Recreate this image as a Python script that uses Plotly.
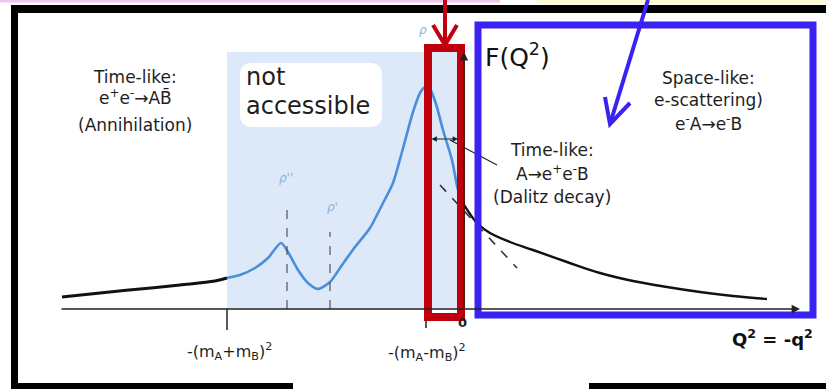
import plotly.graph_objects as go

# ---- data (schematic units: Q^2 horizontally, F(Q^2) vertically) ----
timelike_low_q2 = [-400, -362, -322, -282, -247, -235]
timelike_low_f = [12, 16, 20, 24, 28, 31]

vmd_q2 = [-235, -222, -207, -194, -181, -174, -164, -154, -144, -132, -120, -107,
          -92, -80, -69, -60, -49, -42, -37, -32, -26, -19, -10, -4, 1]
vmd_f = [31, 34, 41, 51, 66, 57, 39, 26, 20, 27, 44, 62,
         81, 104, 126, 157, 197, 216, 222, 220, 205, 179, 149, 119, 106]

spacelike_q2 = [1, 8, 16, 28, 48, 71, 105, 138, 171, 205, 238, 271, 305]
spacelike_f = [106, 95, 85, 76, 67, 59, 47, 36, 28, 22, 17, 13, 10]

tangent_q2 = [-22, 55]
tangent_f = [124, 41]

rho_pp_q2, rho_pp_f = -175, 104
rho_p_q2, rho_p_f = -132, 77

threshold_hi = -235   # -(mA+mB)^2
threshold_lo = -36    # -(mA-mB)^2

tick_labels = ["-(m<sub>A</sub>+m<sub>B</sub>)<sup>2</sup>",
               "-(m<sub>A</sub>-m<sub>B</sub>)<sup>2</sup>", "0"]

FONT = "DejaVu Sans"
BLUE_CURVE = "#4a8fdc"
RED = "#c0000c"
BLUE = "#3a22f2"

fig = go.Figure()

fig.add_trace(go.Scatter(x=timelike_low_q2, y=timelike_low_f, mode="lines",
                         line=dict(color="#111", width=3, shape="spline"),
                         hoverinfo="skip"))
fig.add_trace(go.Scatter(x=vmd_q2, y=vmd_f, mode="lines",
                         line=dict(color=BLUE_CURVE, width=2.6, shape="spline", smoothing=0.7),
                         hoverinfo="skip"))
fig.add_trace(go.Scatter(x=spacelike_q2, y=spacelike_f, mode="lines",
                         line=dict(color="#111", width=2.4, shape="spline"),
                         hoverinfo="skip"))
fig.add_trace(go.Scatter(x=tangent_q2, y=tangent_f, mode="lines",
                         line=dict(color="#333", width=1.6, dash="dash"),
                         hoverinfo="skip"))
fig.add_trace(go.Scatter(x=[rho_pp_q2, rho_pp_q2, None, rho_p_q2, rho_p_q2],
                         y=[0, rho_pp_f, None, 0, rho_p_f], mode="lines",
                         line=dict(color="#555", width=1.2, dash="dash"),
                         hoverinfo="skip"))

shapes = []
# top coloured strips
shapes.append(dict(type="rect", x0=-462, x1=38, y0=306.5, y1=309, fillcolor="#f2c4f0",
                   line_width=0, layer="below"))
shapes.append(dict(type="rect", x0=75, x1=364, y0=306, y1=309, fillcolor="#fffbcf",
                   line_width=0, layer="below"))
# black frame
shapes.append(dict(type="rect", x0=-451, x1=364, y0=296, y1=304, fillcolor="#000",
                   line_width=0, layer="above"))
shapes.append(dict(type="rect", x0=-451, x1=-444, y0=-80, y1=304, fillcolor="#000",
                   line_width=0, layer="above"))
shapes.append(dict(type="rect", x0=-451, x1=-169, y0=-80, y1=-74, fillcolor="#000",
                   line_width=0, layer="above"))
shapes.append(dict(type="rect", x0=127, x1=364, y0=-80, y1=-74, fillcolor="#000",
                   line_width=0, layer="above"))
# not accessible region
shapes.append(dict(type="rect", x0=threshold_hi, x1=0, y0=0, y1=257,
                   fillcolor="#dde9f8", line_width=0, layer="below"))
shapes.append(dict(type="path",
                   path="M -210,246 L -92,246 Q -80,246 -80,234 L -80,194 Q -80,182 -92,182 "
                        "L -210,182 Q -222,182 -222,194 L -222,234 Q -222,246 -210,246 Z",
                   fillcolor="white", line_width=0, layer="below"))
# ticks
shapes.append(dict(type="line", x0=threshold_hi, x1=threshold_hi, y0=0, y1=-21,
                   line=dict(color="#222", width=1.5)))
shapes.append(dict(type="line", x0=threshold_lo, x1=threshold_lo, y0=0, y1=-19,
                   line=dict(color="#222", width=1.5)))
# Dalitz pointer line
shapes.append(dict(type="line", x0=-12, y0=169, x1=35, y1=144,
                   line=dict(color="#222", width=1.2)))
# red box + arrow
shapes.append(dict(type="rect", x0=-34, x1=-1, y0=-8, y1=261,
                   line=dict(color=RED, width=8), layer="above"))
shapes.append(dict(type="line", x0=-17, y0=309, x1=-17, y1=264,
                   line=dict(color=RED, width=4), layer="above"))
shapes.append(dict(type="path", path="M -29,284 L -17,264 L -5,284",
                   line=dict(color=RED, width=4), layer="above"))
# blue box + arrow
shapes.append(dict(type="rect", x0=16, x1=351, y0=-6, y1=284,
                   line=dict(color=BLUE, width=7), layer="above"))
shapes.append(dict(type="line", x0=186, y0=309, x1=148, y1=185,
                   line=dict(color=BLUE, width=4), layer="above"))
shapes.append(dict(type="path", path="M 143,212 L 148,185 L 168,206",
                   line=dict(color=BLUE, width=4), layer="above"))
fig.update_layout(shapes=shapes)

ann = []
# axes with arrows
ann.append(dict(x=338, y=0, ax=-402, ay=0, xref="x", yref="y", axref="x", ayref="y",
                showarrow=True, arrowhead=2, arrowsize=1.2, arrowwidth=1.4,
                arrowcolor="#222", text=""))
ann.append(dict(x=2, y=257, ax=2, ay=0, xref="x", yref="y", axref="x", ayref="y",
                showarrow=True, arrowhead=2, arrowsize=1.2, arrowwidth=1.4,
                arrowcolor="#222", text=""))
# double arrow
ann.append(dict(x=-4, y=170, ax=-32, ay=170, xref="x", yref="y", axref="x", ayref="y",
                showarrow=True, arrowhead=2, arrowside="end+start", arrowsize=0.9,
                arrowwidth=1.2, arrowcolor="#222", text=""))


def txt(x, y, t, size=16, color="#1e1e1e", anchor="center", bold=False):
    ann.append(dict(x=x, y=y, xref="x", yref="y", text=("<b>%s</b>" % t) if bold else t,
                    showarrow=False, xanchor=anchor, yanchor="middle",
                    font=dict(family=FONT, size=size, color=color)))


txt(-327, 232, "Time-like:", size=17)
txt(-327, 212, "e<sup>+</sup>e<sup>-</sup>→AB̄", size=17)
txt(-327, 184, "(Annihilation)", size=17)

txt(-218, 232, "not", size=24, anchor="left")
txt(-218, 203, "accessible", size=24, anchor="left")

txt(246, 231, "Space-like:", size=17)
txt(246, 209, "e-scattering)", size=17)
txt(246, 186, "e<sup>-</sup>A→e<sup>-</sup>B", size=17)

txt(90, 159, "Time-like:", size=17)
txt(90, 136, "A→e<sup>+</sup>e<sup>-</sup>B", size=17)
txt(90, 112, "(Dalitz decay)", size=17)

txt(21, 254, "F(Q<sup>2</sup>)", size=25, color="#111", anchor="left")
txt(310, -29, "Q<sup>2</sup> = -q<sup>2</sup>", size=18, color="#111", bold=True)

txt(threshold_hi + 2, -42, tick_labels[0], size=16)
txt(threshold_lo + 1, -43, tick_labels[1], size=16)
txt(0, -13, tick_labels[2], size=13, bold=True)

txt(-39, 279, "<i>ρ</i>", size=12, color="#8ab3e0")
txt(-176, 131, "<i>ρ''</i>", size=12, color="#8ab3e0")
txt(-130, 102, "<i>ρ'</i>", size=12, color="#8ab3e0")

fig.update_layout(annotations=ann)

fig.update_layout(
    width=826, height=389,
    margin=dict(l=0, r=0, t=0, b=0, pad=0),
    paper_bgcolor="white", plot_bgcolor="white",
    showlegend=False,
    xaxis=dict(range=[-462, 364], visible=False, fixedrange=True),
    yaxis=dict(range=[-80, 309], visible=False, fixedrange=True),
)

fig.write_html("out.html", config={"displayModeBar": False},
               post_script="document.body.style.margin='0';document.body.style.overflow='hidden';")
